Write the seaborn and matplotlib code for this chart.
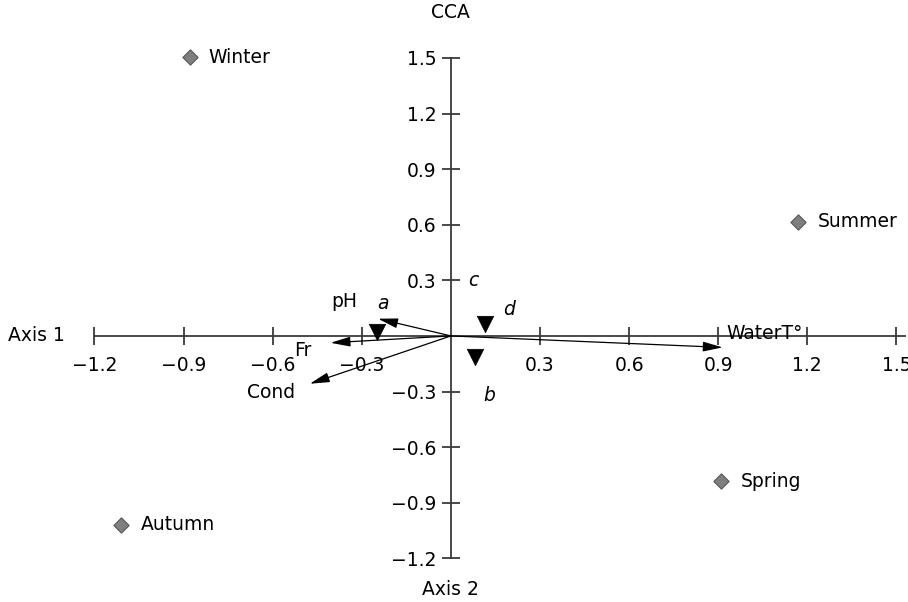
import matplotlib
matplotlib.use("Agg")
import matplotlib.pyplot as plt
import seaborn as sns
import pandas as pd

# seasons (sample scores)
seasons = ["Winter", "Summer", "Spring", "Autumn"]
season_x = [-0.88, 1.17, 0.91, -1.11]
season_y = [1.505, 0.615, -0.785, -1.02]

# species scores
species = ["a", "b", "d"]
species_x = [-0.25, 0.08, 0.115]
species_y = [0.02, -0.115, 0.065]
species_lab_x = [-0.23, 0.13, 0.195, 0.075]
species_lab_y = [0.175, -0.32, 0.145, 0.30]
species_lab = ["a", "b", "d", "c"]

# environmental vectors
env = ["pH", "Fr", "Cond", "WaterT°"]
env_x = [-0.245, -0.405, -0.475, 0.915]
env_y = [0.093, -0.037, -0.258, -0.062]
env_lab_x = [-0.36, -0.50, -0.605, 0.927]
env_lab_y = [0.188, -0.08, -0.305, 0.015]

x_ticks = [-1.2, -0.9, -0.6, -0.3, 0.3, 0.6, 0.9, 1.2, 1.5]
x_labels = ["\u22121.2", "\u22120.9", "\u22120.6", "\u22120.3", "0.3", "0.6", "0.9", "1.2", "1.5"]
y_ticks = [-1.2, -0.9, -0.6, -0.3, 0.3, 0.6, 0.9, 1.2, 1.5]
y_labels = ["\u22121.2", "\u22120.9", "\u22120.6", "\u22120.3", "0.3", "0.6", "0.9", "1.2", "1.5"]

sns.set_style("white")
plt.rcParams['font.family'] = ['DejaVu Sans']
plt.rcParams['text.color'] = 'black'
FS = 13.5

fig = plt.figure(figsize=(9.08, 6.02), dpi=100)
ax = fig.add_axes([0, 0, 1, 1])

season_df = pd.DataFrame({"x": season_x, "y": season_y, "name": seasons})
species_df = pd.DataFrame({"x": species_x, "y": species_y, "name": species})

sns.scatterplot(data=season_df, x="x", y="y", marker="D", s=60,
                color="#7f7f7f", edgecolor="#555555", linewidth=0.8, ax=ax, zorder=4)
sns.scatterplot(data=species_df, x="x", y="y", marker="v", s=140,
                color="black", edgecolor="black", linewidth=0.5, ax=ax, zorder=4)

for name, x, y in zip(seasons, season_x, season_y):
    ax.text(x + 0.065, y, name, fontsize=FS, va="center", ha="left", color="black")

for name, x, y in zip(species_lab, species_lab_x, species_lab_y):
    ax.text(x, y, name, fontsize=FS, style="italic", va="center", ha="center", color="black")

for x, y in zip(env_x, env_y):
    ax.annotate("", xy=(x, y), xytext=(0, 0),
                arrowprops=dict(arrowstyle="-|>,head_length=1.2,head_width=0.3",
                                color="black", lw=0.9, shrinkA=0, shrinkB=0))
for name, x, y in zip(env, env_lab_x, env_lab_y):
    ha = "left" if name.startswith("Water") else "center"
    ax.text(x, y, name, fontsize=FS, va="center", ha=ha, color="black")

# axes through origin
ax.set_xlim(-1.518, 1.539)
ax.set_ylim(-1.436, 1.813)
for side in ["top", "right"]:
    ax.spines[side].set_visible(False)
ax.spines["left"].set_position(("data", 0))
ax.spines["bottom"].set_position(("data", 0))
ax.spines["bottom"].set_bounds(-1.2, 1.53)
ax.spines["left"].set_bounds(-1.2, 1.5)
for side in ["left", "bottom"]:
    ax.spines[side].set_color("#3a3a3a")
    ax.spines[side].set_linewidth(1.3)

ax.set_xticks(x_ticks)
ax.set_xticklabels(x_labels)
ax.set_yticks(y_ticks)
ax.set_yticklabels(y_labels)
ax.tick_params(axis="both", direction="inout", length=13, width=1.3,
               color="#3a3a3a", labelcolor="black", labelsize=FS,
               bottom=True, left=True)
ax.tick_params(axis="x", pad=8)
ax.tick_params(axis="y", pad=4)
ax.set_xlabel("")
ax.set_ylabel("")

ax.text(0, 1.743, "CCA", fontsize=FS, ha="center", va="center", color="black")
ax.text(0, -1.371, "Axis 2", fontsize=FS, ha="center", va="center", color="black")
ax.text(-1.394, 0, "Axis 1", fontsize=FS, ha="center", va="center", color="black")

fig.savefig("out.png", dpi=100)
